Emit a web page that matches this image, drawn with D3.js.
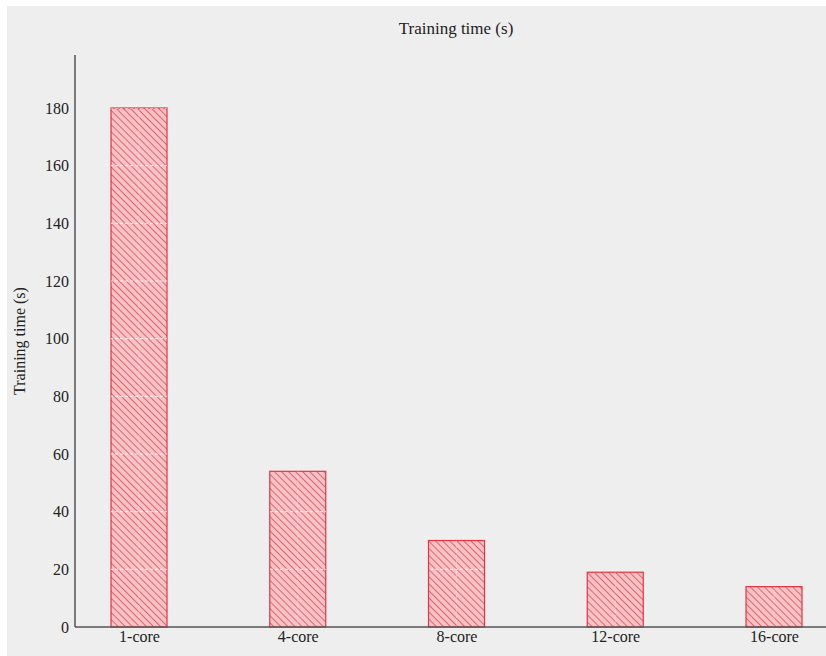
<!DOCTYPE html>
<html>
<head>
<meta charset="utf-8">
<script src="https://cdn.jsdelivr.net/npm/d3@7"></script>
<style>
  body { margin: 0; background: #fff; }
  text { font-family: "Liberation Serif", "Times New Roman", "DejaVu Serif", serif; fill: #222; }
</style>
</head>
<body>
<svg id="chart" width="826" height="656"></svg>
<script>
const categories = ["1-core", "4-core", "8-core", "12-core", "16-core"];
const trainingTime = [180, 54, 30, 19, 14];
const yTicks = [0, 20, 40, 60, 80, 100, 120, 140, 160, 180];

const svg = d3.select("#chart");
const W = 826, H = 656;
const plotLeft = 75, plotRight = 826, plotTop = 55, plotBottom = 627;
const serif = "Liberation Serif, Times New Roman, serif";

// panel background, white strip on top and left
svg.append("rect")
  .attr("x", 7).attr("y", 6)
  .attr("width", W - 7).attr("height", H - 6)
  .attr("fill", "#eeeeee");

// hatch pattern for the bars
const defs = svg.append("defs");
const pat = defs.append("pattern")
  .attr("id", "hatch")
  .attr("patternUnits", "userSpaceOnUse")
  .attr("width", 5).attr("height", 5)
  .attr("patternTransform", "rotate(-45)");
pat.append("rect").attr("width", 5).attr("height", 5).attr("fill", "#f8c3c6");
pat.append("line")
  .attr("x1", 0).attr("y1", 0).attr("x2", 0).attr("y2", 5)
  .attr("stroke", "#e04a55").attr("stroke-width", 1.6);

const x = d3.scalePoint().domain(categories).range([139, 774]);
const y = d3.scaleLinear().domain([0, 180]).range([plotBottom, 108]);
const barW = 56;

// clip the white grid to the bars (it does not show on the grey panel)
const clip = defs.append("clipPath").attr("id", "barsClip");
clip.selectAll("rect")
  .data(categories)
  .join("rect")
  .attr("x", d => x(d) - barW / 2)
  .attr("width", barW)
  .attr("y", (d, i) => y(trainingTime[i]))
  .attr("height", (d, i) => plotBottom - y(trainingTime[i]));

// bars
svg.selectAll("rect.bar")
  .data(categories)
  .join("rect")
  .attr("class", "bar")
  .attr("x", d => x(d) - barW / 2)
  .attr("width", barW)
  .attr("y", (d, i) => y(trainingTime[i]))
  .attr("height", (d, i) => plotBottom - y(trainingTime[i]))
  .attr("fill", "url(#hatch)")
  .attr("stroke", "#e8323f")
  .attr("stroke-width", 1.2);

// white dashed grid over bars
const grid = svg.append("g").attr("clip-path", "url(#barsClip)");
grid.selectAll("line.h")
  .data(yTicks.slice(1))
  .join("line")
  .attr("class", "h")
  .attr("x1", plotLeft).attr("x2", plotRight)
  .attr("y1", d => y(d)).attr("y2", d => y(d))
  .attr("stroke", "#ffffff").attr("stroke-width", 1)
  .attr("stroke-dasharray", "3,2").attr("opacity", 0.85);
grid.selectAll("line.v")
  .data(categories)
  .join("line")
  .attr("class", "v")
  .attr("x1", d => x(d)).attr("x2", d => x(d))
  .attr("y1", plotTop).attr("y2", plotBottom)
  .attr("stroke", "#ffffff").attr("stroke-width", 1)
  .attr("stroke-dasharray", "3,2").attr("opacity", 0.35);

// axes
const yAxis = svg.append("g")
  .attr("transform", `translate(${plotLeft},0)`)
  .call(d3.axisLeft(y).tickValues(yTicks).tickSize(0).tickPadding(6));
yAxis.select(".domain").remove();
yAxis.selectAll("text").attr("font-size", 16).style("font-family", serif).attr("fill", "#222");

const xAxis = svg.append("g")
  .attr("transform", `translate(0,${plotBottom})`)
  .call(d3.axisBottom(x).tickSize(0).tickPadding(4));
xAxis.select(".domain").remove();
xAxis.selectAll("text").attr("font-size", 16).style("font-family", serif).attr("fill", "#222");

svg.append("line")
  .attr("x1", plotLeft).attr("x2", plotLeft).attr("y1", plotTop).attr("y2", plotBottom)
  .attr("stroke", "#555").attr("stroke-width", 1.5);
svg.append("line")
  .attr("x1", plotLeft).attr("x2", plotRight).attr("y1", plotBottom).attr("y2", plotBottom)
  .attr("stroke", "#555").attr("stroke-width", 1.5);

// titles
svg.append("text")
  .attr("x", 456).attr("y", 34)
  .attr("text-anchor", "middle")
  .attr("font-size", 17)
  .text("Training time (s)");

svg.append("text")
  .attr("transform", `translate(25,341) rotate(-90)`)
  .attr("text-anchor", "middle")
  .attr("font-size", 16)
  .text("Training time (s)");
</script>
</body>
</html>
